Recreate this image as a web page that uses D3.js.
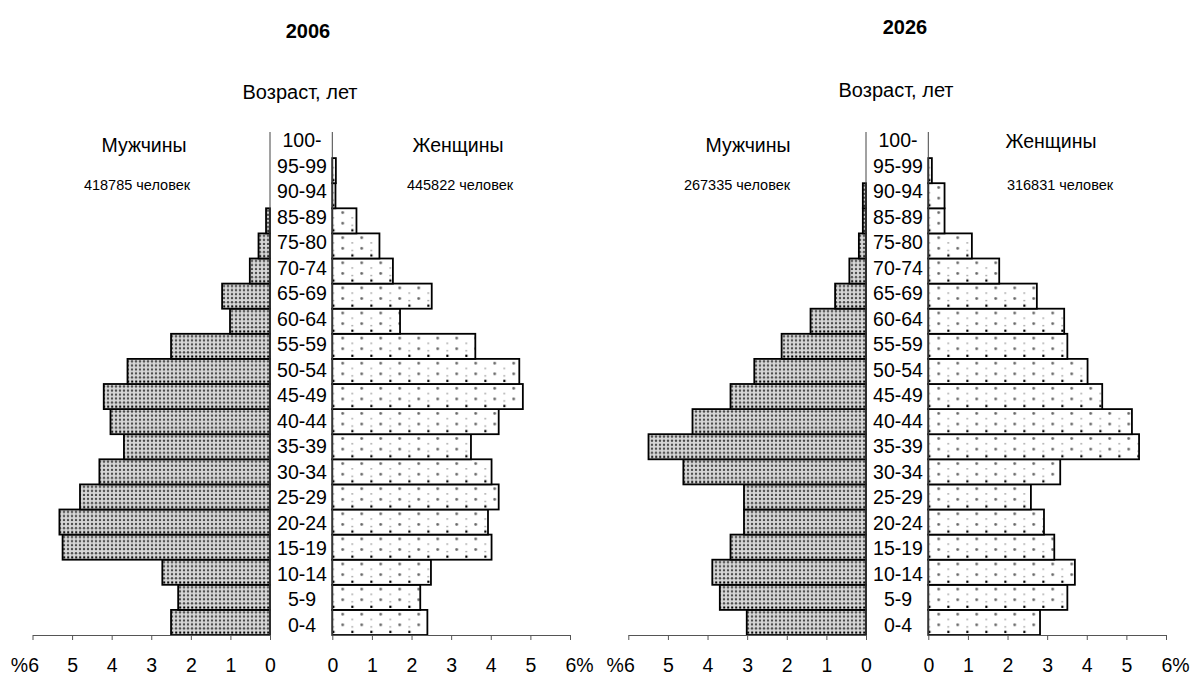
<!DOCTYPE html>
<html>
<head>
<meta charset="utf-8">
<script src="https://cdn.jsdelivr.net/npm/d3@7"></script>
<style>
  body { margin: 0; background: #fff; }
  svg text { font-family: "Liberation Sans", Arial, sans-serif; fill: #000; }
</style>
</head>
<body>
<div id="chart"></div>
<script>
// age groups, bottom to top (80-84 is absent in the source)
var ages = ["0-4", "5-9", "10-14", "15-19", "20-24", "25-29", "30-34", "35-39", "40-44", "45-49",
  "50-54", "55-59", "60-64", "65-69", "70-74", "75-80", "85-89", "90-94", "95-99", "100-"];

var years = ["2006", "2026"];

// share of population, %
var male2006 = [2.5, 2.32, 2.72, 5.24, 5.32, 4.8, 4.31, 3.69, 4.03, 4.2,
  3.6, 2.5, 1.01, 1.21, 0.51, 0.29, 0.1, 0, 0, 0];
var female2006 = [2.4, 2.22, 2.49, 4.02, 3.93, 4.2, 4.02, 3.5, 4.2, 4.81,
  4.72, 3.61, 1.71, 2.51, 1.53, 1.19, 0.61, 0.08, 0.09, 0];
var male2026 = [3.01, 3.69, 3.88, 3.42, 3.08, 3.08, 4.61, 5.49, 4.38, 3.42,
  2.82, 2.13, 1.4, 0.78, 0.42, 0.18, 0.08, 0.08, 0, 0];
var female2026 = [2.82, 3.51, 3.7, 3.18, 2.92, 2.59, 3.33, 5.32, 5.14, 4.39,
  4.02, 3.51, 3.43, 2.74, 1.79, 1.1, 0.41, 0.41, 0.09, 0];

var maleTotals = ["418785 человек", "267335 человек"];
var femaleTotals = ["445822 человек", "316831 человек"];

var ticks = [0, 1, 2, 3, 4, 5, 6];

var svgWidth = 1192;
var svgHeight = 675;

var svg = d3.select("#chart")
  .append("svg")
  .attr("width", svgWidth)
  .attr("height", svgHeight);

var defs = svg.append("defs");

var plotTop = 133;
var plotBottom = 635;

var y = d3.scaleBand()
  .domain(ages)
  .range([plotBottom, plotTop])
  .padding(0);

// label positions run on a slightly wider grid than the bars
var yLabel = d3.scalePoint()
  .domain(ages)
  .range([625, 140]);

var bw = y.bandwidth();

// panel geometry
var panels = [
  { maleZero: 270, maleSix: 32.5, femaleZero: 332.3, femaleSix: 570, mid: 302,
    titleX: 308, titleY: 38, ageY: 99, maleX: 144, femaleX: 458, femaleY: 152,
    maleTotX: 137, femaleTotX: 460 },
  { maleZero: 866, maleSix: 628.3, femaleZero: 928.3, femaleSix: 1166, mid: 898,
    titleX: 905, titleY: 34, ageY: 97, maleX: 748, femaleX: 1051, femaleY: 148,
    maleTotX: 737, femaleTotX: 1060 }
];

var maleData = [male2006, male2026];
var femaleData = [female2006, female2026];

function makePatterns(i, p) {
  // dense grey stipple for men
  var pm = defs.append("pattern")
    .attr("id", "pm" + i)
    .attr("patternUnits", "userSpaceOnUse")
    .attr("x", p.maleZero)
    .attr("y", plotTop)
    .attr("width", 4)
    .attr("height", bw);
  pm.append("rect").attr("width", 4).attr("height", bw).attr("fill", "#d6d6d6");
  for (var r = 2.5; r < bw - 4; r += 4) {
    pm.append("circle").attr("cx", 2).attr("cy", r).attr("r", 1.2).attr("fill", "#4a4a4a");
  }
  pm.append("rect").attr("x", 1.2).attr("y", bw - 3.4).attr("width", 2).attr("height", 2).attr("fill", "#000");

  // sparse dots for women
  var pf = defs.append("pattern")
    .attr("id", "pf" + i)
    .attr("patternUnits", "userSpaceOnUse")
    .attr("x", p.femaleZero)
    .attr("y", plotTop)
    .attr("width", 19)
    .attr("height", bw);
  pf.append("rect").attr("width", 19).attr("height", bw).attr("fill", "#fff");
  pf.append("circle").attr("cx", 10.4).attr("cy", 4.3).attr("r", 1.4).attr("fill", "#666");
  pf.append("circle").attr("cx", 10.4).attr("cy", 15).attr("r", 1.4).attr("fill", "#666");
  pf.append("circle").attr("cx", 1).attr("cy", 9.5).attr("r", 0.9).attr("fill", "#999");
  pf.append("circle").attr("cx", 1).attr("cy", 17).attr("r", 0.9).attr("fill", "#999");
  pf.append("rect").attr("x", 0).attr("y", bw - 4.2).attr("width", 2.2).attr("height", 2.2).attr("fill", "#000");
}

panels.forEach(function(p, i) {
  makePatterns(i, p);

  var xMale = d3.scaleLinear().domain([0, 6]).range([p.maleZero, p.maleSix]);
  var xFemale = d3.scaleLinear().domain([0, 6]).range([p.femaleZero, p.femaleSix]);

  var g = svg.append("g");

  // men bars
  g.selectAll(".male")
    .data(maleData[i])
    .enter()
    .filter(function(d) { return d > 0; })
    .append("rect")
    .attr("class", "male")
    .attr("x", d => xMale(d))
    .attr("y", (d, j) => y(ages[j]))
    .attr("width", d => xMale(0) - xMale(d))
    .attr("height", bw)
    .attr("fill", "url(#pm" + i + ")")
    .attr("stroke", "#000")
    .attr("stroke-width", 1.8);

  // women bars
  g.selectAll(".female")
    .data(femaleData[i])
    .enter()
    .filter(function(d) { return d > 0; })
    .append("rect")
    .attr("class", "female")
    .attr("x", xFemale(0))
    .attr("y", (d, j) => y(ages[j]))
    .attr("width", d => xFemale(d) - xFemale(0))
    .attr("height", bw)
    .attr("fill", "url(#pf" + i + ")")
    .attr("stroke", "#000")
    .attr("stroke-width", 1.8);

  // vertical axis lines on both sides of the age column
  [p.maleZero, p.femaleZero].forEach(function(x) {
    g.append("line")
      .attr("x1", x).attr("x2", x)
      .attr("y1", plotTop - 1).attr("y2", plotBottom)
      .attr("stroke", "#444")
      .attr("stroke-width", 1);
  });

  // age labels
  g.selectAll(".age")
    .data(ages)
    .enter()
    .append("text")
    .attr("class", "age")
    .attr("x", p.mid)
    .attr("y", d => yLabel(d))
    .attr("dy", "0.36em")
    .attr("text-anchor", "middle")
    .style("font-size", "19.5px")
    .text(d => d);

  // bottom axes
  var maleAxis = d3.axisBottom(xMale)
    .tickValues(ticks)
    .tickSize(5)
    .tickSizeOuter(0)
    .tickPadding(18)
    .tickFormat(d => d === 6 ? "%6" : d);

  var femaleAxis = d3.axisBottom(xFemale)
    .tickValues(ticks)
    .tickSize(5)
    .tickSizeOuter(0)
    .tickPadding(18)
    .tickFormat(d => d === 6 ? "6%" : d);

  [maleAxis, femaleAxis].forEach(function(ax, k) {
    var a = g.append("g")
      .attr("transform", `translate(0, ${plotBottom})`)
      .call(ax);
    a.selectAll("path, line").attr("stroke", "#555");
    a.selectAll("text")
      .style("font-size", "19.5px")
      .style("font-family", "'Liberation Sans', Arial, sans-serif")
      .attr("fill", "#000");
    a.selectAll(".tick")
      .filter(d => d === 6)
      .select("text")
      .attr("text-anchor", k === 0 ? "end" : "start")
      .attr("x", k === 0 ? 6 : -5);
  });

  // titles and captions
  g.append("text")
    .attr("x", p.titleX)
    .attr("y", p.titleY)
    .attr("text-anchor", "middle")
    .style("font-size", "20px")
    .style("font-weight", "bold")
    .text(years[i]);

  g.append("text")
    .attr("x", p.mid - 2)
    .attr("y", p.ageY)
    .attr("text-anchor", "middle")
    .style("font-size", "20px")
    .text("Возраст, лет");

  g.append("text")
    .attr("x", p.maleX)
    .attr("y", 152)
    .attr("text-anchor", "middle")
    .style("font-size", "19.5px")
    .text("Мужчины");

  g.append("text")
    .attr("x", p.femaleX)
    .attr("y", p.femaleY)
    .attr("text-anchor", "middle")
    .style("font-size", "19.5px")
    .text("Женщины");

  g.append("text")
    .attr("x", p.maleTotX)
    .attr("y", 190)
    .attr("text-anchor", "middle")
    .style("font-size", "14.5px")
    .text(maleTotals[i]);

  g.append("text")
    .attr("x", p.femaleTotX)
    .attr("y", 190)
    .attr("text-anchor", "middle")
    .style("font-size", "14.5px")
    .text(femaleTotals[i]);
});
</script>
</body>
</html>
